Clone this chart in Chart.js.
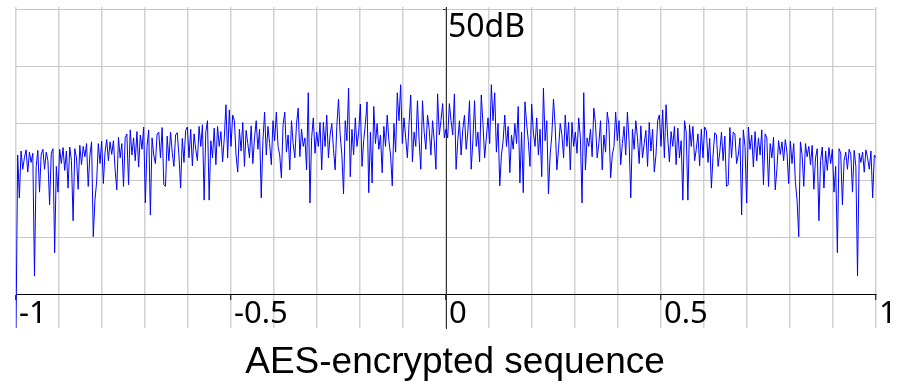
<!DOCTYPE html>
<html>
<head>
<meta charset="utf-8">
<title>AES-encrypted sequence</title>
<script src="https://cdn.jsdelivr.net/npm/chart.js@4.4.0/dist/chart.umd.min.js"></script>
<style>
  body { margin: 0; background: #fff; }
  #box { width: 903px; height: 388px; }
</style>
</head>
<body>
<div id="box"><canvas id="spectrum" width="903" height="388"></canvas></div>
<script>
// spettro in dB, 513 bin da -1 a 1 (valori stimati dal grafico)
var levels = [
  // da -1 verso 0
  -6, 24.5, 17.0, 25.2, 22.0, 24.0, 25.4, 21.5, 25.0, 23.2, 24.8, 3.3, 22.5, 25.3, 18.0, 24.6,
  25.5, 22.0, 25.0, 23.5, 15.8, 24.8, 25.6, 7.4, 22.5, 18.0, 25.5, 23.0, 25.8, 21.8, 25.2, 18.7,
  25.9, 23.5, 13.0, 25.6, 24.0, 18.5, 26.2, 22.8, 26.0, 24.2, 26.5, 19.0, 24.5, 26.8, 10.2, 16.6,
  19.8, 26.5, 23.0, 26.9, 19.5, 25.0, 27.2, 23.5, 26.8, 24.6, 27.0, 22.0, 18.4, 27.6, 24.0, 26.5,
  19.0, 27.5, 28.2, 19.3, 28.9, 24.5, 27.5, 23.5, 28.6, 22.4, 28.0, 25.5, 29.4, 16.1, 26.0, 28.9,
  14.0, 27.5, 24.5, 23.0, 28.2, 28.5, 24.0, 29.3, 19.3, 19.0, 27.8, 23.5, 28.5, 25.0, 22.5, 28.0,
  28.4, 24.5, 18.7, 27.4, 23.2, 28.8, 29.4, 24.0, 29.0, 22.6, 28.2, 25.5, 23.5, 29.5, 26.0, 29.8,
  16.6, 28.5, 30.5, 16.6, 27.0, 24.0, 29.2, 22.8, 29.5, 26.0, 28.6, 23.3, 27.5, 33.3, 24.0, 32.4,
  26.0, 31.5, 30.5, 24.5, 21.5, 29.0, 25.2, 30.2, 22.5, 28.8, 26.5, 24.0, 29.6, 23.0, 27.5, 30.5,
  25.5, 29.0, 17.0, 27.0, 32.0, 24.5, 29.5, 26.5, 22.8, 30.5, 27.0, 32.0, 26.0, 24.5, 20.5, 29.8,
  32.0, 25.0, 28.0, 21.9, 30.5, 26.5, 24.0, 30.0, 32.7, 24.2, 29.0, 26.0, 27.5, 21.9, 35.4, 16.1,
  27.5, 31.0, 24.8, 28.5, 26.0, 30.2, 21.9, 30.2, 26.0, 31.5, 24.0, 28.0, 30.0, 25.5, 21.9, 29.5,
  34.3, 28.0, 24.5, 17.7, 30.5, 27.0, 36.2, 20.7, 29.0, 24.5, 31.0, 26.0, 28.5, 33.4, 22.5, 27.0,
  30.0, 33.8, 17.9, 28.5, 19.6, 33.0, 26.5, 30.0, 25.5, 28.0, 21.4, 29.5, 26.0, 31.5, 27.0, 24.5,
  19.1, 30.0, 25.0, 35.4, 30.5, 36.8, 26.5, 31.0, 27.5, 24.0, 30.0, 35.0, 23.3, 28.5, 26.0, 34.0,
  27.0, 22.0, 34.0, 28.5, 25.5, 31.5, 29.0, 24.5, 30.5, 27.0, 22.0, 35.2, 28.0, 30.5, 33.5, 27.5,
  // centro
  29.0,
  // da 0 verso 1
  27.5, 33.5, 30.5, 28.0, 35.2, 22.0, 27.0, 30.5, 24.5, 29.0, 31.5, 25.5, 28.5, 34.0, 22.0, 27.0,
  34.0, 26.0, 28.5, 23.3, 35.0, 30.0, 24.0, 27.5, 31.0, 26.5, 36.8, 30.5, 35.4, 25.0, 30.0, 19.1,
  24.5, 27.0, 31.5, 26.0, 29.5, 21.4, 28.0, 25.5, 30.0, 26.5, 33.0, 19.6, 28.5, 17.9, 33.8, 30.0,
  27.0, 22.5, 33.4, 28.5, 26.0, 31.0, 24.5, 29.0, 20.7, 36.2, 27.0, 30.5, 17.7, 24.5, 28.0, 34.3,
  29.5, 21.9, 25.5, 30.0, 28.0, 24.0, 31.5, 26.0, 30.2, 21.9, 30.2, 26.0, 28.5, 24.8, 31.0, 27.5,
  16.1, 35.4, 21.9, 27.5, 26.0, 29.0, 24.2, 32.7, 30.0, 24.0, 26.5, 30.5, 21.9, 28.0, 25.0, 32.0,
  29.8, 20.5, 24.5, 26.0, 32.0, 27.0, 30.5, 22.8, 26.5, 29.5, 24.5, 32.0, 27.0, 17.0, 29.0, 25.5,
  30.5, 27.5, 23.0, 29.6, 24.0, 26.5, 28.8, 22.5, 30.2, 25.2, 29.0, 21.5, 24.5, 30.5, 31.5, 26.0,
  32.4, 24.0, 33.3, 27.5, 23.3, 28.6, 26.0, 29.5, 22.8, 29.2, 24.0, 27.0, 16.6, 30.5, 28.5, 16.6,
  29.8, 26.0, 29.5, 23.5, 25.5, 28.2, 22.6, 29.0, 24.0, 29.4, 28.8, 23.2, 27.4, 18.7, 24.5, 28.4,
  28.0, 22.5, 25.0, 28.5, 23.5, 27.8, 19.0, 19.3, 29.3, 24.0, 28.5, 28.2, 23.0, 24.5, 27.5, 14.0,
  28.9, 26.0, 16.1, 29.4, 25.5, 28.0, 22.4, 28.6, 23.5, 27.5, 24.5, 28.9, 19.3, 28.2, 27.5, 19.0,
  26.5, 24.0, 27.6, 18.4, 22.0, 27.0, 24.6, 26.8, 23.5, 27.2, 25.0, 19.5, 26.9, 23.0, 26.5, 19.8,
  16.6, 10.2, 26.8, 24.5, 19.0, 26.5, 24.2, 26.0, 22.8, 26.2, 18.5, 24.0, 25.6, 13.0, 23.5, 25.9,
  18.7, 25.2, 21.8, 25.8, 23.0, 25.5, 18.0, 22.5, 7.4, 25.6, 24.8, 15.8, 23.5, 25.0, 22.0, 25.5,
  24.6, 18.0, 25.3, 22.5, 3.3, 24.8, 23.2, 25.0, 21.5, 25.4, 24.0, 22.0, 25.2, 17.0, 24.5,
  24.0
];

// assi
var freqMin = -1;
var freqMax = 1;
var xTickLabels = ['-1', '-0.5', '0', '0.5', '1'];
var xLabelValues = [-1, -0.5, 0, 0.5, 1];
var yGridValues = [0, 10, 20, 30, 40, 50];
var yTopLabel = '50dB';
var chartTitle = 'AES-encrypted sequence';

function buildPoints() {
  var pts = [];
  var step = (freqMax - freqMin) / (levels.length - 1);
  for (var i = 0; i < levels.length; i++) {
    pts.push({ x: freqMin + i * step, y: levels[i] });
  }
  return pts;
}

function isMajor(v) {
  return Math.abs(Math.round(v * 10)) % 5 === 0;
}

function labelFor(v) {
  for (var i = 0; i < xLabelValues.length; i++) {
    if (Math.abs(xLabelValues[i] - v) < 1e-6) return xTickLabels[i];
  }
  return '';
}

// testi extra: etichetta dB in alto e titolo sotto
var textPlugin = {
  id: 'extraText',
  afterDraw: function (chart) {
    var ctx = chart.ctx;
    var xs = chart.scales.x;
    ctx.save();
    ctx.fillStyle = '#000';
    ctx.textAlign = 'left';
    ctx.textBaseline = 'alphabetic';
    ctx.font = '32px "Noto Sans"';
    ctx.fillText(yTopLabel, xs.getPixelForValue(0) + 2, 37);
    ctx.textAlign = 'center';
    ctx.font = '37px "Liberation Sans"';
    ctx.fillText(chartTitle, 455, 373);
    ctx.restore();
  }
};

function init() {
  var ctx = document.getElementById('spectrum').getContext('2d');
  var chart = new Chart(ctx, {
    type: 'line',
    data: {
      datasets: [{
        data: buildPoints(),
        borderColor: '#0000ff',
        borderWidth: 1,
        pointRadius: 0,
        tension: 0,
        fill: false
      }]
    },
    options: {
      responsive: false,
      animation: false,
      events: [],
      layout: { padding: { left: 16, right: 27, top: 7, bottom: 60 } },
      plugins: {
        legend: { display: false },
        tooltip: { enabled: false },
        title: { display: false }
      },
      scales: {
        x: {
          type: 'linear',
          min: freqMin,
          max: freqMax,
          position: { y: 0 },
          afterFit: function (s) { s.paddingLeft = 0; s.paddingRight = 0; },
          grid: {
            color: '#d2d2d2',
            lineWidth: 1.5,
            drawTicks: true,
            tickLength: 5,
            tickWidth: 1,
            tickColor: function (c) { return c.tick && isMajor(c.tick.value) ? '#000' : 'rgba(0,0,0,0)'; }
          },
          border: { display: true, color: '#000', width: 1 },
          ticks: {
            stepSize: 0.1,
            autoSkip: false,
            maxRotation: 0,
            align: 'start',
            labelOffset: 3,
            padding: -4,
            color: '#000',
            font: { family: 'Noto Sans', size: 31 },
            callback: function (v) { return isMajor(v) ? labelFor(v) : ''; }
          }
        },
        y: {
          type: 'linear',
          min: -5.78,
          max: 50.4,
          position: { x: 0 },
          afterBuildTicks: function (s) {
            s.ticks = yGridValues.map(function (v) { return { value: v }; });
          },
          grid: {
            color: '#c8c8c8',
            lineWidth: 1,
            drawTicks: true,
            tickLength: 3,
            tickColor: function (c) { return c.tick && c.tick.value === 50 ? '#333' : 'rgba(0,0,0,0)'; }
          },
          border: { display: true, color: '#333', width: 1 },
          ticks: { display: false }
        }
      }
    },
    plugins: [textPlugin]
  });
}

init();
</script>
</body>
</html>
